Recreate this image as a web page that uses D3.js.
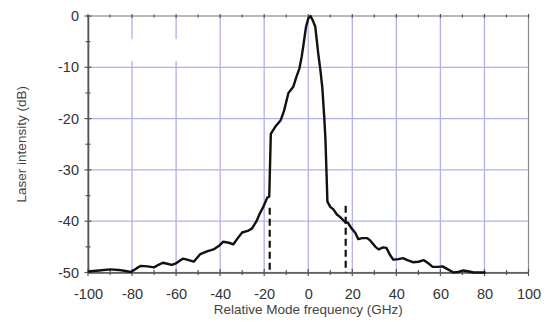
<!DOCTYPE html>
<html><head><meta charset="utf-8">
<script src="https://cdn.jsdelivr.net/npm/d3@7"></script>
<style>body{margin:0;background:#fff}svg{display:block}</style>
</head><body>
<script>
const freq = [-100,-95,-90,-86,-83,-80.5,-78,-76,-73,-70,-68,-66,-64,-62,-60,-57,-55,-52,-49,-46,-43,-40.5,-38.6,-36,-34,-32,-30,-27.5,-25.5,-23.5,-22,-20.4,-18.6,-17.7,-17.0,-15,-12.5,-11,-9,-6.8,-5.5,-4,-3,-2.3,-1,0,1,2,3.2,4.5,5.5,6.4,7.3,7.8,8.4,8.7,10,11.4,13,14.5,16.8,18,19.5,21.4,22.7,24.5,26.8,28.2,30.5,32,34,35.5,37,38.6,41,43,45,47.5,50,52.5,54.5,56.5,59,61,63,66,68,70.5,73,75,80.5];
const intensity = [-49.8,-49.6,-49.4,-49.5,-49.7,-49.9,-49.2,-48.7,-48.8,-49.0,-48.5,-48.1,-48.3,-48.5,-48.2,-47.3,-47.5,-47.9,-46.4,-45.9,-45.5,-44.8,-44.0,-44.2,-44.5,-43.3,-42.2,-41.9,-41.4,-40.0,-38.5,-37.2,-35.4,-35.2,-23.0,-21.6,-20.3,-18.5,-15.0,-13.8,-12,-10.2,-8,-6,-2.1,-0.5,0,-0.8,-2.1,-7.2,-10.5,-14,-20,-24,-32,-36.2,-37.2,-37.7,-38.7,-39.2,-40.2,-40.3,-41.3,-42.3,-43.5,-43.3,-43.3,-43.8,-45.0,-45.5,-45.1,-45.2,-46.5,-47.5,-47.4,-47.2,-47.6,-48.0,-47.9,-47.6,-48.2,-48.9,-48.9,-48.8,-49.3,-50.0,-49.9,-49.6,-49.8,-50,-50];
const markerFreq = [-17.5, 17];
const markerTop = [-37.4, -37.0];
const xTicks = [-100,-80,-60,-40,-20,0,20,40,60,80,100];
const yTicks = [0,-10,-20,-30,-40,-50];
const xTitle = "Relative Mode frequency (GHz)";
const yTitle = "Laser intensity (dB)";

const W = 549, H = 322;
const svg = d3.select("body").append("svg").attr("width", W).attr("height", H);
const x = d3.scaleLinear().domain([-100,100]).range([88,528.5]);
const y = d3.scaleLinear().domain([-50,0]).range([272.5,16]);
const font = "Liberation Sans, Arial, sans-serif";
const fmt = d => String(d);

// grid
const grid = svg.append("g").attr("stroke", "#b0b0ee").attr("stroke-width", 1.3);
grid.selectAll("line.v").data(xTicks.slice(1,-1)).join("line")
  .attr("x1", d => x(d)).attr("x2", d => x(d)).attr("y1", y(0)).attr("y2", y(-50));
grid.selectAll("line.h").data(yTicks.slice(1,-1)).join("line")
  .attr("y1", d => y(d)).attr("y2", d => y(d)).attr("x1", x(-100)).attr("x2", x(100));

// white patch (as in reference)
svg.append("rect").attr("x", 116).attr("y", 39).attr("width", 100).attr("height", 22).attr("fill", "#fff");

// frame
svg.append("rect").attr("x", x(-100)).attr("y", y(0)).attr("width", x(100)-x(-100)).attr("height", y(-50)-y(0))
  .attr("fill", "none").attr("stroke", "#8a8a8a").attr("stroke-width", 1.2);

// axes
const axCol = "#555";
const bottom = svg.append("g").attr("transform", `translate(0,${y(-50)})`)
  .call(d3.axisBottom(x).tickValues(xTicks).tickSize(0).tickPadding(16).tickFormat(fmt));
const left = svg.append("g").attr("transform", `translate(${x(-100)},0)`)
  .call(d3.axisLeft(y).tickValues(yTicks).tickSize(0).tickPadding(9).tickFormat(fmt));
[bottom, left].forEach(g => {
  g.select(".domain").attr("stroke", axCol).attr("stroke-width", 1.6);
  g.selectAll("text").attr("font-family", font).attr("font-size", 14.5).attr("fill", "#333");
});

// ticks crossing the axes
const tk = svg.append("g").attr("stroke", axCol).attr("stroke-width", 1.2);
const xMinor = d3.range(-100, 101, 10);
const yMinor = d3.range(-50, 1, 5);
xMinor.forEach(v => {
  const L = v % 20 === 0 ? 3.5 : 2.5;
  tk.append("line").attr("x1", x(v)).attr("x2", x(v)).attr("y1", y(-50)-L).attr("y2", y(-50)+L);
  tk.append("line").attr("x1", x(v)).attr("x2", x(v)).attr("y1", y(0)-L*0.6).attr("y2", y(0)+L*0.6);
});
yMinor.forEach(v => {
  const L = v % 10 === 0 ? 3.5 : 2.5;
  tk.append("line").attr("y1", y(v)).attr("y2", y(v)).attr("x1", x(-100)-L).attr("x2", x(-100)+L);
});

// dashed markers
svg.append("g").selectAll("line").data(markerFreq).join("line")
  .attr("x1", d => x(d)).attr("x2", d => x(d))
  .attr("y1", (d,i) => y(markerTop[i])).attr("y2", y(-50))
  .attr("stroke", "#111").attr("stroke-width", 2.2).attr("stroke-dasharray", "7,4");

// curve
const pts = freq.map((f,i) => [f, intensity[i]]);
svg.append("path").datum(pts)
  .attr("d", d3.line().x(d => x(d[0])).y(d => y(d[1])))
  .attr("fill", "none").attr("stroke", "#111").attr("stroke-width", 2.4).attr("stroke-linejoin", "round");

// titles
svg.append("text").attr("x", x(0)).attr("y", 314).attr("text-anchor", "middle")
  .attr("font-family", font).attr("font-size", 13.5).attr("fill", "#444").text(xTitle);
svg.append("text").attr("transform", `translate(26,${(y(0)+y(-50))/2}) rotate(-90)`).attr("text-anchor", "middle")
  .attr("font-family", font).attr("font-size", 13.5).attr("fill", "#444").text(yTitle);
</script>
</body></html>
